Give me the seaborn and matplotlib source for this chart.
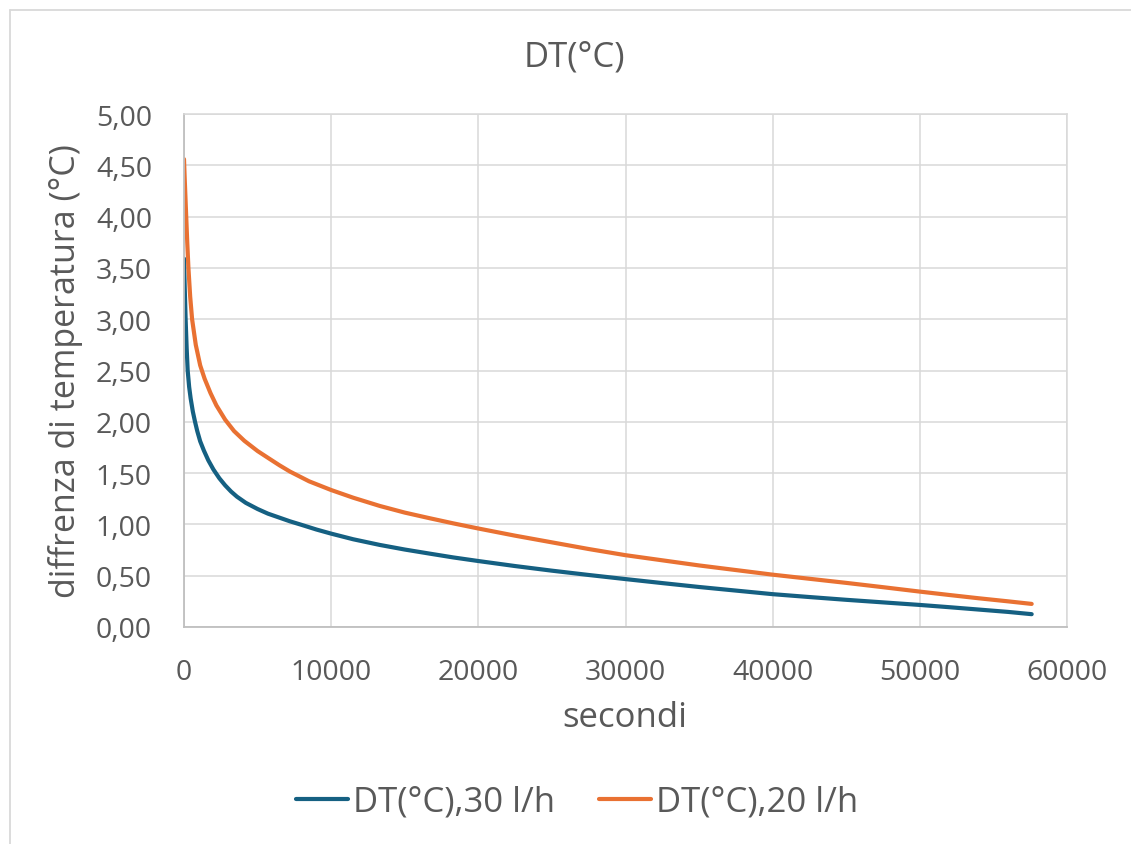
import matplotlib
matplotlib.use("Agg")
import matplotlib.pyplot as plt
from matplotlib.lines import Line2D
import seaborn as sns
import pandas as pd

# Temperature difference over time for two flow rates
secondi_30 = [0, 50, 110, 180, 250, 350, 450, 600, 750, 900, 1100, 1350, 1650,
              2000, 2400, 2800, 3200, 3600, 4200, 5000, 5700, 6500, 7200, 8000,
              9000, 10000, 11500, 13300, 15000, 16700, 18300, 20000, 22500,
              25000, 27500, 30000, 32500, 35000, 37500, 40000, 42500, 45000,
              47500, 50000, 52000, 54000, 56000, 57600]
dt_30 = [3.59, 3.30, 3.00, 2.72, 2.50, 2.34, 2.23, 2.10, 2.00, 1.91, 1.81, 1.72, 1.625,
         1.535, 1.45, 1.38, 1.32, 1.27, 1.21, 1.15, 1.105, 1.065, 1.03, 0.995,
         0.95, 0.91, 0.855, 0.80, 0.755, 0.715, 0.678, 0.643, 0.594,
         0.549, 0.507, 0.467, 0.428, 0.39, 0.355, 0.32, 0.292, 0.265,
         0.24, 0.215, 0.193, 0.17, 0.147, 0.125]

secondi_20 = [0, 40, 150, 220, 300, 420, 550, 800, 1100, 1400, 1800, 2200,
              2800, 3400, 4100, 5000, 5800, 6500, 7200, 8500,
              10000, 11500, 13300, 15000, 16700, 18300, 20000, 22500, 25000,
              27500, 30000, 32500, 35000, 37500, 40000, 42500, 45000, 47500,
              50000, 52000, 54000, 56000, 57600]
dt_20 = [4.56, 4.40, 4.00, 3.75, 3.50, 3.22, 3.00, 2.75, 2.55, 2.42, 2.28, 2.16,
         2.02, 1.91, 1.815, 1.715, 1.64, 1.575, 1.515, 1.42,
         1.335, 1.26, 1.18, 1.115, 1.06, 1.01, 0.96, 0.89, 0.825,
         0.76, 0.70, 0.65, 0.60, 0.555, 0.51, 0.47, 0.43, 0.388,
         0.345, 0.312, 0.28, 0.25, 0.225]

serie = ["DT(°C),30 l/h", "DT(°C),20 l/h"]
colori = ["#156082", "#E97132"]

titolo = "DT(°C)"
etichetta_x = "secondi"
etichetta_y = "diffrenza di temperatura (°C)"
x_ticks = [0, 10000, 20000, 30000, 40000, 50000, 60000]
y_ticks = [0.0, 0.5, 1.0, 1.5, 2.0, 2.5, 3.0, 3.5, 4.0, 4.5, 5.0]

df = pd.concat([
    pd.DataFrame({"secondi": secondi_30, "DT": dt_30, "serie": serie[0]}),
    pd.DataFrame({"secondi": secondi_20, "DT": dt_20, "serie": serie[1]}),
], ignore_index=True)

sns.set_style("white")
plt.rcParams["font.family"] = ["Open Sans", "DejaVu Sans"]
testo = "#595959"

W, H = 1131, 845
fig = plt.figure(figsize=(W / 100, H / 100), dpi=100)
fig.patch.set_facecolor("white")

x0, x1, y0, y1 = 184, 1067, 115, 628
ax = fig.add_axes([x0 / W, 1 - y1 / H, (x1 - x0) / W, (y1 - y0) / H])

sns.lineplot(data=df, x="secondi", y="DT", hue="serie", palette=colori,
             hue_order=serie, linewidth=3.0, ax=ax, legend=False,
             sort=False, estimator=None)
for ln in ax.get_lines():
    ln.set_solid_capstyle("round")
    ln.set_solid_joinstyle("round")

ax.set_xlim(0, 60000)
ax.set_ylim(0, 5)
ax.set_xticks(x_ticks)
ax.set_xticklabels([str(v) for v in x_ticks])
ax.set_yticks(y_ticks)
ax.set_yticklabels([f"{v:.2f}".replace(".", ",") for v in y_ticks])
ax.tick_params(axis="both", length=0, labelsize=20.5, colors=testo)
ax.tick_params(axis="y", pad=23)
ax.tick_params(axis="x", pad=22)

ax.grid(True, color="#d9d9d9", linewidth=1.1)
ax.set_axisbelow(True)
for side in ["top", "right"]:
    ax.spines[side].set_color("#d9d9d9")
    ax.spines[side].set_linewidth(1.1)
for side in ["left", "bottom"]:
    ax.spines[side].set_color("#bfbfbf")
    ax.spines[side].set_linewidth(1.3)

ax.set_xlabel(etichetta_x, fontsize=25, color=testo)
ax.set_ylabel(etichetta_y, fontsize=24.5, color=testo)
ax.xaxis.set_label_coords((625 - x0) / (x1 - x0), -(718 - y1) / (y1 - y0))
ax.yaxis.set_label_coords(-(x0 - 66) / (x1 - x0), 0.5)
ax.xaxis.label.set_va("center")
ax.yaxis.label.set_va("center")

fig.text(574 / W, 1 - 57 / H, titolo, fontsize=25, color=testo,
         ha="center", va="center")

handles = [Line2D([0], [0], color=c, linewidth=3.0, solid_capstyle="round")
           for c in colori]
fig.legend(handles, serie, loc="center", bbox_to_anchor=(577 / W, 1 - 803 / H),
           ncol=2, frameon=False, fontsize=25, handlelength=1.5,
           handletextpad=0.15, columnspacing=1.25, labelcolor=testo)

# chart area frame
bordo = "#d9d9d9"
fig.add_artist(Line2D([9.5 / W, 9.5 / W], [0, 1 - 10.5 / H], color=bordo,
                      linewidth=1.3, transform=fig.transFigure))
fig.add_artist(Line2D([9.5 / W, 1], [1 - 10.5 / H, 1 - 10.5 / H], color=bordo,
                      linewidth=1.3, transform=fig.transFigure))

fig.savefig("out.png", dpi=100, facecolor="white")
